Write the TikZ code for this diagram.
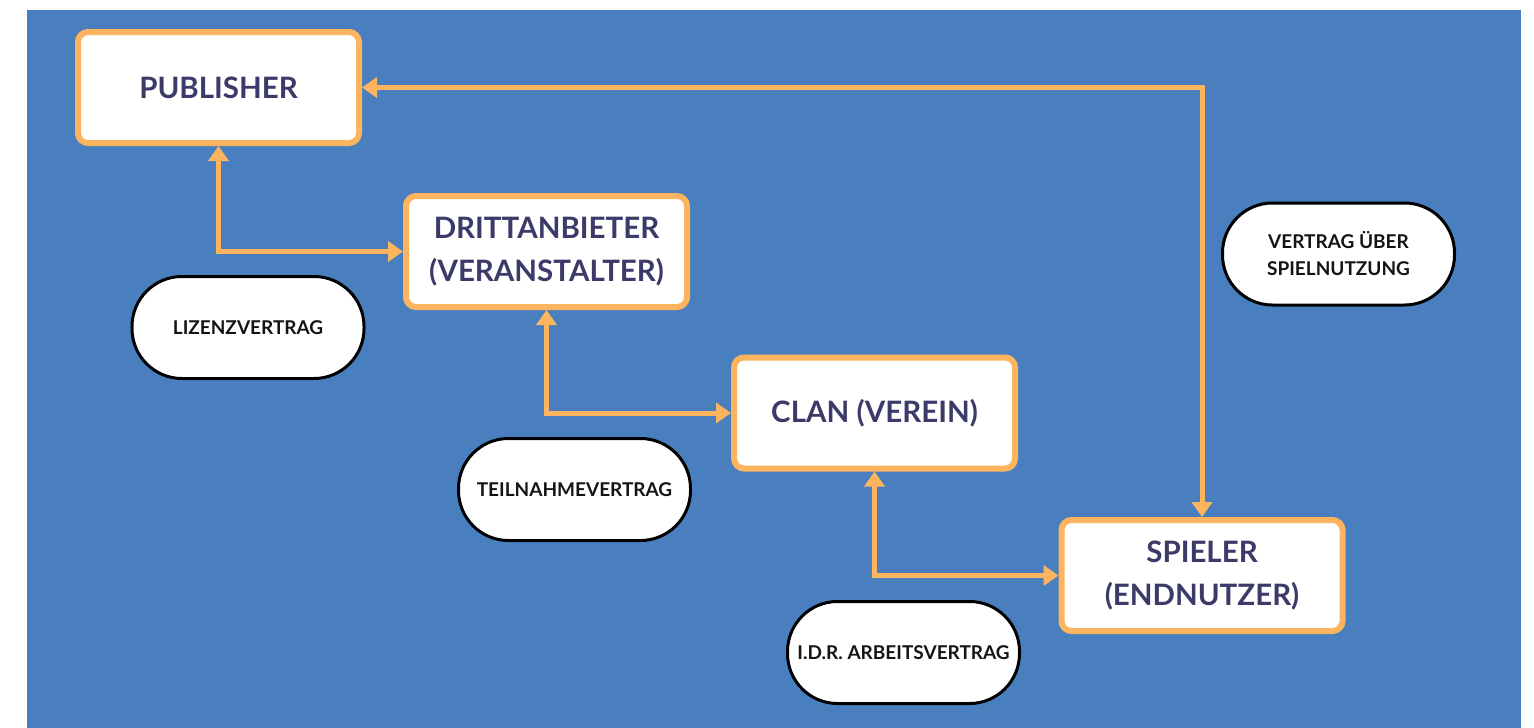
\documentclass[tikz,border=0pt]{standalone}
\usepackage{fontspec}
\setmainfont{Lato}
\usetikzlibrary{arrows.meta}
\definecolor{bgblue}{HTML}{4A7FBF}
\definecolor{orng}{HTML}{FDB45E}
\definecolor{navy}{HTML}{3B3A68}
\definecolor{pilltext}{HTML}{141414}
\tikzset{
  mainbox/.style={draw=orng, line width=6pt, fill=white, rounded corners=10pt,
    minimum width=281pt, minimum height=111pt, align=center, text=navy,
    font=\fontsize{29.5}{43}\selectfont\bfseries, inner sep=0pt},
  pill/.style={draw=black, line width=3pt, fill=white, rounded corners=50pt,
    minimum width=232pt, minimum height=102pt, align=center, text=pilltext,
    font=\fontsize{19}{27}\selectfont\bfseries, inner sep=0pt},
  conn/.style={draw=orng, line width=5pt,
    {Triangle[width=20pt,length=15pt]}-{Triangle[width=20pt,length=15pt]}}
}
\begin{document}
\begin{tikzpicture}[x=1pt,y=-1pt]
\useasboundingbox (0,0) rectangle (1534,728);
\fill[bgblue] (27,10) rectangle (1521,728);

\node[mainbox] (pub)   at (218.5,87.5)  {PUBLISHER};
\node[mainbox] (dritt) at (546.5,251.5) {DRITTANBIETER\\(VERANSTALTER)};
\node[mainbox] (clan)  at (874.5,413)   {CLAN (VEREIN)};
\node[mainbox] (spiel) at (1202,575.5)  {SPIELER\\(ENDNUTZER)};

\node[pill] (liz)  at (248,327.5)  {LIZENZVERTRAG};
\node[pill] (teil) at (574.5,489.5) {TEILNAHMEVERTRAG};
\node[pill] (idr)  at (903.5,652.5) {I.D.R. ARBEITSVERTRAG};
\node[pill] (vsn)  at (1338.5,254)  {VERTRAG ÜBER\\SPIELNUTZUNG};

\draw[conn] (pub.south) |- (dritt.west);
\draw[conn] (dritt.south) |- (clan.west);
\draw[conn] (clan.south) |- (spiel.west);
\draw[conn] (spiel.north) |- (pub.east);
\end{tikzpicture}
\end{document}
